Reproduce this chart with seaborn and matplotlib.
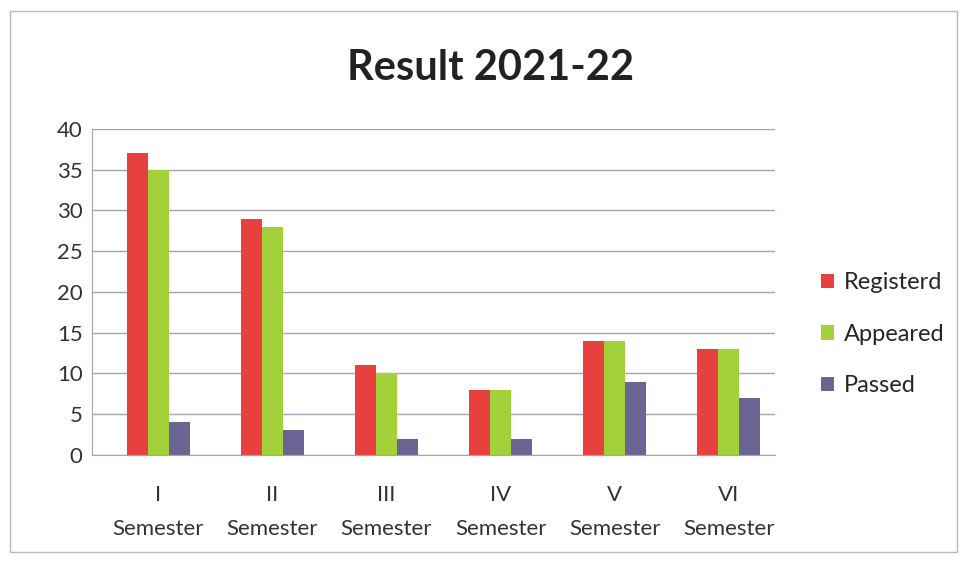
import pandas as pd
import seaborn as sns
import matplotlib.pyplot as plt

# ── Data ───────────────────────────────────────────────────────────────────────
semesters = ["I\nSemester", "II\nSemester", "III\nSemester",
             "IV\nSemester", "V\nSemester", "VI\nSemester"]
registered = [37, 29, 11, 8, 14, 13]
appeared = [35, 28, 10, 8, 14, 13]
passed = [4, 3, 2, 2, 9, 7]
series = ["Registerd", "Appeared", "Passed"]
colors = ["#E8403F", "#A3D13A", "#6B6596"]

df = pd.DataFrame({"Semester": semesters * 3,
                   "Count": registered + appeared + passed,
                   "Series": [s for s in series for _ in semesters]})

# ── Plot ───────────────────────────────────────────────────────────────────────
sns.set_style("white")
plt.rcParams["font.family"] = ["Lato", "DejaVu Sans"]

fig = plt.figure(figsize=(9.62, 5.63), dpi=100)
ax = fig.add_axes([0.096, 0.192, 0.71, 0.579])

sns.barplot(data=df, x="Semester", y="Count", hue="Series",
            palette=colors, width=0.55, saturation=1, linewidth=0, ax=ax)

ax.set_xlim(-0.58, 5.41)
ax.set_ylim(0, 40)
ax.set_yticks(range(0, 41, 5))
ax.yaxis.grid(True, color="#a4a4b2", linewidth=1)
ax.set_axisbelow(True)
ax.set_xlabel("")
ax.set_ylabel("")
ax.tick_params(axis="both", labelsize=16, colors="#333333")
ax.tick_params(axis="x", pad=18)
for lbl in ax.get_xticklabels():
    lbl.set_linespacing(1.9)
for s in ["top", "right"]:
    ax.spines[s].set_visible(False)
ax.spines["left"].set_color("#a4a4b2")
ax.spines["bottom"].set_color("#a4a4b2")

sns.move_legend(ax, "center left", bbox_to_anchor=(1.035, 0.37), frameon=False,
                title=None, fontsize=17, labelspacing=1.3,
                handlelength=0.55, handleheight=0.55, handletextpad=0.45)

fig.text(0.51, 0.88, "Result 2021-22", ha="center", va="center",
         fontsize=30, fontweight="bold", color="#222222")

# light border round the chart area
fig.patches.append(plt.Rectangle((0.01, 0.02), 0.985, 0.96, transform=fig.transFigure,
                                 fill=False, edgecolor="#bbbbbb", linewidth=1))

plt.savefig("out.png", dpi=100)
